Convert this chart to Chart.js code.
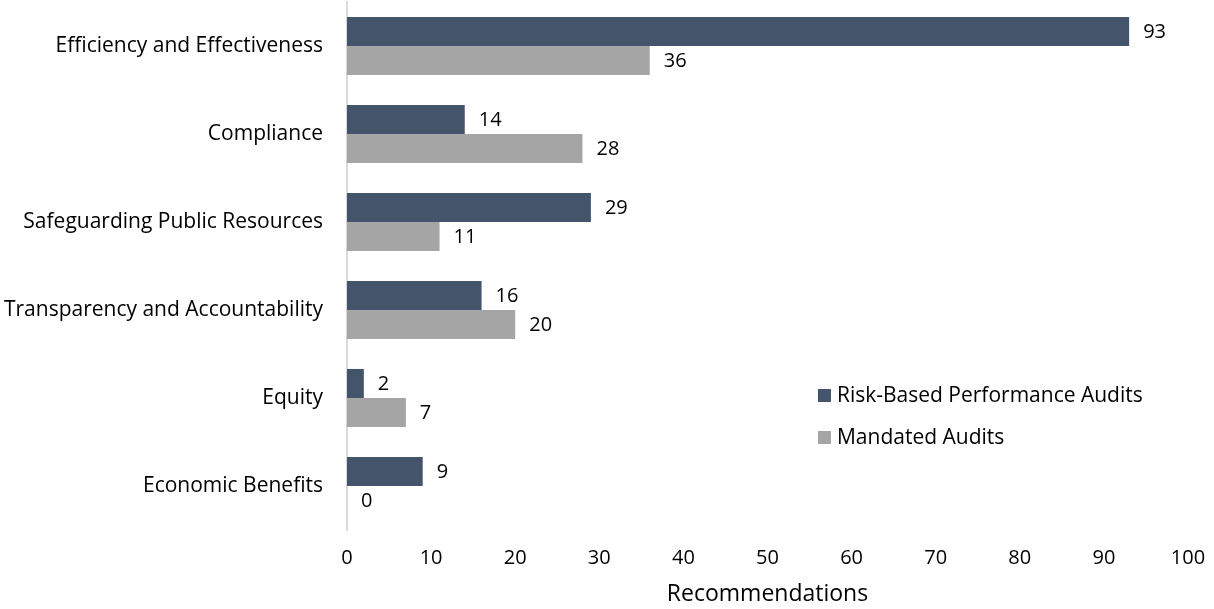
<!DOCTYPE html>
<html>
<head>
<meta charset="utf-8">
<script src="https://cdn.jsdelivr.net/npm/chart.js@4"></script>
<style>
  html, body { margin: 0; padding: 0; background: #fff; }
  #wrap { width: 1214px; height: 609px; }
</style>
</head>
<body>
<div id="wrap"><canvas id="chart" width="1214" height="609"></canvas></div>
<script>
// dati
const categories = [
  "Efficiency and Effectiveness",
  "Compliance",
  "Safeguarding Public Resources",
  "Transparency and Accountability",
  "Equity",
  "Economic Benefits"
];
const riskBased = [93, 14, 29, 16, 2, 9];
const mandated = [36, 28, 11, 20, 7, 0];
const xTicks = [0, 10, 20, 30, 40, 50, 60, 70, 80, 90, 100];

const FONT = "'Open Sans', sans-serif";
const SIZE = 20;
const LABEL_SIZE = 21;

// etichette dei valori a fine barra
const valueLabels = {
  id: "valueLabels",
  afterDatasetsDraw(chart) {
    const ctx = chart.ctx;
    ctx.save();
    ctx.font = SIZE + "px " + FONT;
    ctx.fillStyle = "#000";
    ctx.textAlign = "left";
    ctx.textBaseline = "middle";
    chart.data.datasets.forEach((ds, i) => {
      chart.getDatasetMeta(i).data.forEach((bar, j) => {
        ctx.fillText(ds.data[j], bar.x + 14, bar.y + 1);
      });
    });
    ctx.restore();
  }
};

// legenda dentro l'area del grafico
const innerLegend = {
  id: "innerLegend",
  afterDraw(chart) {
    const ctx = chart.ctx;
    const x = chart.scales.x.getPixelForValue(56.0);
    const y0 = chart.scales.y.getPixelForValue(4) - 3;
    ctx.save();
    ctx.font = LABEL_SIZE + "px " + FONT;
    ctx.textBaseline = "middle";
    chart.data.datasets.forEach((ds, i) => {
      const y = y0 + i * 42;
      ctx.fillStyle = ds.backgroundColor;
      ctx.fillRect(x, y - 6, 13, 13);
      ctx.fillStyle = "#000";
      ctx.fillText(ds.label, x + 19, y + 1);
    });
    ctx.restore();
  }
};

new Chart(document.getElementById("chart"), {
  type: "bar",
  data: {
    labels: categories,
    datasets: [
      {
        label: "Risk-Based Performance Audits",
        data: riskBased,
        backgroundColor: "#44546A",
        categoryPercentage: 0.66,
        barPercentage: 1
      },
      {
        label: "Mandated Audits",
        data: mandated,
        backgroundColor: "#A5A5A5",
        categoryPercentage: 0.66,
        barPercentage: 1
      }
    ]
  },
  options: {
    indexAxis: "y",
    responsive: false,
    animation: false,
    layout: { padding: { top: 2, right: 26, left: 0, bottom: 0 } },
    plugins: {
      legend: { display: false },
      tooltip: { enabled: false }
    },
    scales: {
      x: {
        min: 0,
        max: 100,
        afterBuildTicks: (scale) => {
          scale.ticks = xTicks.map((v) => ({ value: v }));
        },
        afterFit: (scale) => {
          scale.height = 79;
          scale.paddingLeft = 0;
          scale.paddingRight = 0;
        },
        grid: { display: false, drawTicks: false },
        border: { display: false },
        ticks: {
          color: "#000",
          padding: 16,
          font: { family: FONT, size: SIZE }
        },
        title: {
          display: true,
          text: "Recommendations",
          color: "#000",
          padding: { top: 2, bottom: 1 },
          font: { family: FONT, size: 23 }
        }
      },
      y: {
        afterFit: (scale) => {
          scale.width = 347;
          scale.paddingTop = 0;
          scale.paddingBottom = 0;
        },
        grid: { display: false, drawTicks: false },
        border: { display: true, color: "#D9D9D9", width: 2 },
        ticks: {
          color: "#000",
          padding: 24,
          font: { family: FONT, size: LABEL_SIZE }
        }
      }
    }
  },
  plugins: [valueLabels, innerLegend]
});
</script>
</body>
</html>
